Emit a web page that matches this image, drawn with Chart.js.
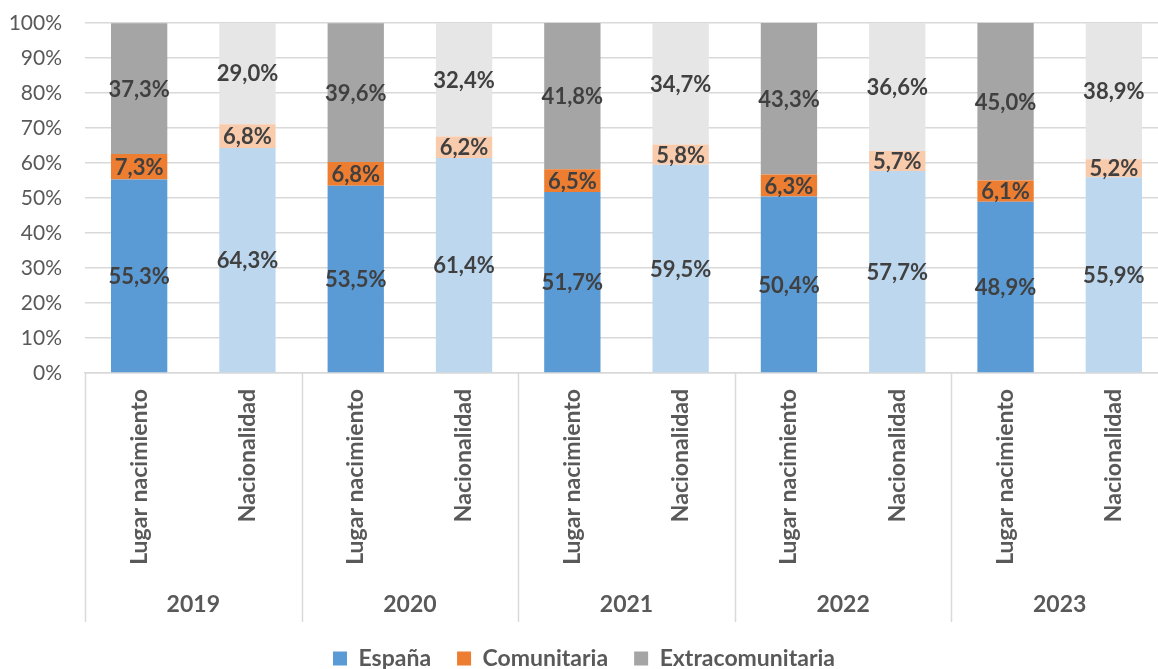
<!DOCTYPE html>
<html lang="es">
<head>
  <meta charset="UTF-8">
  <title>Población por lugar de nacimiento y nacionalidad</title>
  <script src="https://cdn.jsdelivr.net/npm/chart.js"></script>
  <style>
    html, body {
      margin: 0;
      padding: 0;
      background: #fff;
      overflow: hidden;
    }
    /* el lienzo sobresale un poco de la ventana, como en el original recortado */
    #wrap {
      width: 1168px;
      height: 680px;
      position: relative;
    }
  </style>
</head>
<body>
  <div id="wrap">
    <canvas id="chartCanvas"></canvas>
  </div>

  <script>
    // datos
    const years = ['2019', '2020', '2021', '2022', '2023'];
    const groups = ['Lugar nacimiento', 'Nacionalidad'];
    const espana = [55.3, 64.3, 53.5, 61.4, 51.7, 59.5, 50.4, 57.7, 48.9, 55.9];
    const comunitaria = [7.3, 6.8, 6.8, 6.2, 6.5, 5.8, 6.3, 5.7, 6.1, 5.2];
    const extracomunitaria = [37.3, 29.0, 39.6, 32.4, 41.8, 34.7, 43.3, 36.6, 45.0, 38.9];
    const yTicks = [0, 10, 20, 30, 40, 50, 60, 70, 80, 90, 100];

    const labels = [];
    years.forEach(() => groups.forEach(g => labels.push(g)));

    const FONT = 'Lato, "Open Sans", sans-serif';
    const TEXT = '#595959';
    const GRID = '#D9D9D9';

    // oscuro para "Lugar nacimiento", claro para "Nacionalidad"
    const pair = (dark, light) => ctx => ctx.dataIndex % 2 ? light : dark;

    const valueLabels = {
      id: 'valueLabels',
      afterDatasetsDraw(chart) {
        const c = chart.ctx;
        c.save();
        c.font = 'bold 22px ' + FONT;
        c.fillStyle = '#404040';
        c.textAlign = 'center';
        c.textBaseline = 'middle';
        chart.data.datasets.forEach((ds, i) => {
          chart.getDatasetMeta(i).data.forEach((bar, j) => {
            const v = ds.data[j];
            const y = Math.max((bar.y + bar.base) / 2, chart.chartArea.top);
            c.fillText(v.toFixed(1).replace('.', ',') + '%', bar.x, y + 1);
          });
        });
        c.restore();
      }
    };

    const yearAxis = {
      id: 'yearAxis',
      afterDraw(chart) {
        const c = chart.ctx;
        const x = chart.scales.x;
        const top = chart.chartArea.bottom;
        const bottom = top + 249;
        c.save();
        c.strokeStyle = GRID;
        c.lineWidth = 1.5;
        c.beginPath();
        for (let k = 0; k <= years.length; k++) {
          let px;
          if (k === 0) px = chart.chartArea.left;
          else if (k === years.length) px = chart.chartArea.right;
          else px = (x.getPixelForValue(2 * k - 1) + x.getPixelForValue(2 * k)) / 2;
          px = Math.round(px) + 0.5;
          c.moveTo(px, top);
          c.lineTo(px, bottom);
        }
        c.stroke();
        c.font = 'bold 23px ' + FONT;
        c.fillStyle = TEXT;
        c.textAlign = 'center';
        c.textBaseline = 'middle';
        years.forEach((yr, k) => {
          const cx = (x.getPixelForValue(2 * k) + x.getPixelForValue(2 * k + 1)) / 2;
          c.fillText(yr, cx, top + 232);
        });
        c.restore();
      }
    };

    const legendItems = [
      { text: 'España', fillStyle: '#5B9BD5' },
      { text: 'Comunitaria', fillStyle: '#ED7D31' },
      { text: 'Extracomunitaria', fillStyle: '#A5A5A5' }
    ];

    const ctx = document.getElementById('chartCanvas').getContext('2d');
    const chart = new Chart(ctx, {
      type: 'bar',
      data: {
        labels: labels,
        datasets: [
          {
            label: 'España',
            data: espana,
            backgroundColor: pair('#5B9BD5', '#BDD7EE')
          },
          {
            label: 'Comunitaria',
            data: comunitaria,
            backgroundColor: pair('#ED7D31', '#F8CBAD')
          },
          {
            label: 'Extracomunitaria',
            data: extracomunitaria,
            backgroundColor: pair('#A5A5A5', '#E6E6E6')
          }
        ]
      },
      options: {
        responsive: true,
        maintainAspectRatio: false,
        animation: false,
        layout: {
          padding: { top: 23, left: 0, right: 0, bottom: 0 }
        },
        datasets: {
          bar: {
            barPercentage: 0.52,
            categoryPercentage: 1,
            borderWidth: 0
          }
        },
        scales: {
          x: {
            stacked: true,
            grid: { display: false, drawTicks: false },
            border: { display: true, color: GRID, width: 1.5 },
            ticks: {
              minRotation: 90,
              maxRotation: 90,
              autoSkip: false,
              padding: 16,
              color: TEXT,
              font: { family: FONT, size: 23, weight: 'bold' }
            },
            afterFit(scale) { scale.height = 248; }
          },
          y: {
            stacked: true,
            min: 0,
            max: 100,
            afterBuildTicks(scale) {
              scale.ticks = yTicks.map(v => ({ value: v }));
            },
            grid: { color: GRID, lineWidth: 1.5, drawTicks: false },
            border: { display: false },
            ticks: {
              padding: 23,
              color: TEXT,
              font: { family: FONT, size: 21 },
              callback: v => v + '%'
            },
            afterFit(scale) {
              scale.width = 85;
              scale.paddingTop = 0;
              scale.paddingBottom = 0;
            }
          }
        },
        plugins: {
          tooltip: { enabled: false },
          legend: {
            position: 'bottom',
            labels: {
              boxWidth: 14,
              boxHeight: 14,
              padding: 26,
              color: TEXT,
              font: { family: FONT, size: 23, weight: 'bold' },
              generateLabels: () => legendItems.map((it, i) => ({
                text: it.text,
                fillStyle: it.fillStyle,
                strokeStyle: it.fillStyle,
                lineWidth: 0,
                fontColor: TEXT,
                datasetIndex: i
              }))
            }
          }
        }
      },
      plugins: [valueLabels, yearAxis]
    });
  </script>
</body>
</html>
